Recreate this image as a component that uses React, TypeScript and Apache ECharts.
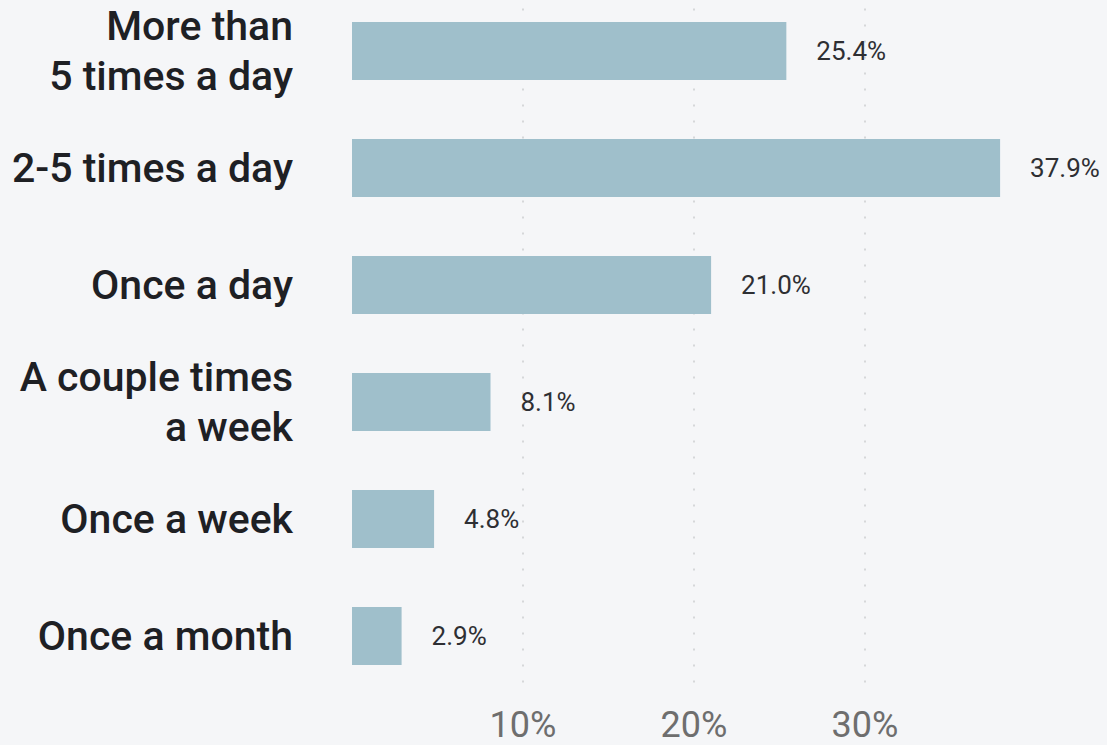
import React, { useEffect, useRef } from "react";
import * as echarts from "echarts";

const categories = [
  "More than\n5 times a day",
  "2-5 times a day",
  "Once a day",
  "A couple times\na week",
  "Once a week",
  "Once a month",
];
const values = [25.4, 37.9, 21.0, 8.1, 4.8, 2.9];
const tickValues = [10, 20, 30];

export default function App() {
  const ref = useRef<HTMLDivElement>(null);
  useEffect(() => {
    const chart = echarts.init(ref.current!, undefined, { renderer: "svg" });
    chart.setOption({
      animation: false,
      backgroundColor: "#f5f6f8",
      grid: { left: 352, top: 0.5, width: 684, height: 702, containLabel: false },
      xAxis: {
        type: "value",
        min: 0,
        max: 40,
        interval: 10,
        axisLine: { show: false },
        axisTick: { show: false },
        axisLabel: {
          showMinLabel: false,
          showMaxLabel: false,
          formatter: (v: number) => (tickValues.includes(v) ? v + "%" : ""),
          color: "#6e6e6e",
          fontFamily: "Roboto",
          fontSize: 36,
          margin: 12,
        },
        splitLine: {
          show: true,
          showMinLine: false,
          showMaxLine: false,
          lineStyle: { color: "#d6d7d9", width: 2, type: [2, 14] },
        },
      },
      yAxis: {
        type: "category",
        inverse: true,
        data: categories,
        axisLine: { show: false },
        axisTick: { show: false },
        axisLabel: {
          color: "#1e2024",
          fontFamily: "Roboto",
          fontWeight: 500,
          fontSize: 41,
          lineHeight: 50,
          margin: 59,
          align: "right",
        },
      },
      series: [
        {
          type: "bar",
          data: values,
          barWidth: 58,
          itemStyle: { color: "#9fbfcb" },
          label: {
            show: true,
            position: "right",
            distance: 30,
            formatter: (p: any) => p.value.toFixed(1) + "%",
            color: "#2e2f33",
            fontFamily: "Roboto",
            fontSize: 26,
          },
        },
      ],
    });
    return () => chart.dispose();
  }, []);
  return (
    <div
      ref={ref}
      style={{ position: "fixed", left: 0, top: -8, width: 1107, height: 753 }}
    />
  );
}
